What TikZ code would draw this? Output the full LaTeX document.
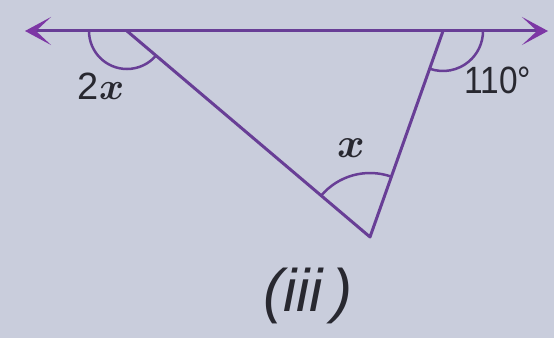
\RequirePackage{fix-cm}
\documentclass[tikz,border=0pt]{standalone}
\usepackage{fontspec}
\setmainfont{Liberation Sans}
\usetikzlibrary{arrows.meta,angles}
\definecolor{bgc}{RGB}{201,205,220}
\definecolor{linec}{RGB}{104,62,150}
\definecolor{tipc}{RGB}{125,55,165}
\definecolor{txtc}{RGB}{40,40,48}
\tikzset{
  geoline/.style={draw=linec, line width=3pt},
  anglearc/.style={draw=linec, line width=2.5pt},
  lbl/.style={text=txtc, inner sep=0pt},
}
\begin{document}
\begin{tikzpicture}[x=1pt,y=1pt]
\fill[bgc] (0,0) rectangle (554,338);
\useasboundingbox (0,0) rectangle (554,338);
\coordinate (L) at (25,307);
\coordinate (R) at (548,307);
\coordinate (A) at (127,307);
\coordinate (B) at (443,307);
\coordinate (C) at (370,101);
\draw[geoline, {Stealth[length=26pt,width=28pt,inset=15pt,color=tipc]}-{Stealth[length=26pt,width=28pt,inset=15pt,color=tipc]}] (L) -- (R);
\draw[geoline, line join=round] (A) -- (C) -- (B);
\pic[anglearc, angle radius=38pt] {angle = L--A--C};
\pic[anglearc, angle radius=40pt] {angle = C--B--R};
\pic[anglearc, angle radius=64pt] {angle = B--C--A};
\node[lbl, font=\fontsize{38}{44}\selectfont\boldmath] (t2x) at (101,252) {2$x$};
\node[lbl, font=\fontsize{38}{44}\selectfont, xscale=0.88] (t110) at (498,258) {110°};
\node[lbl, font=\fontsize{42}{48}\selectfont\boldmath] (tx) at (351,190) {$x$};
\node[lbl, font=\fontsize{60}{70}\selectfont\itshape] (tiii) at (308,42) {(iii\,)};
\end{tikzpicture}
\end{document}
